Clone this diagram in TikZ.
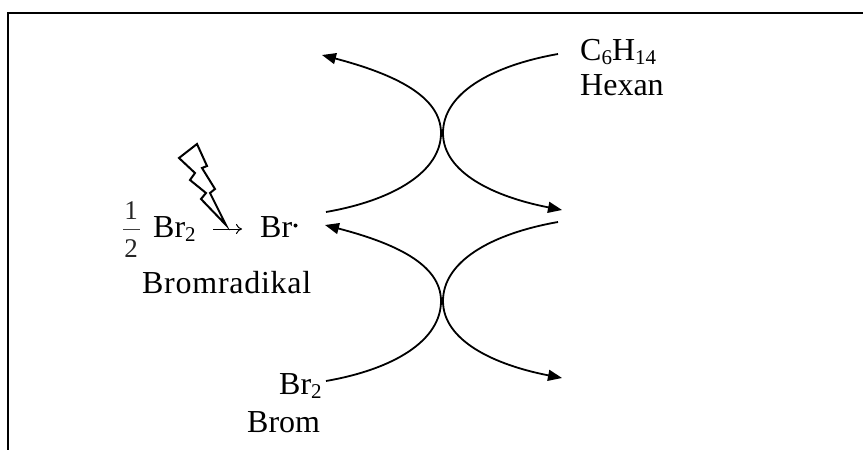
\documentclass[tikz,border=0pt]{standalone}
\usepackage{fontspec}
\setmainfont{Liberation Serif}
\usetikzlibrary{arrows.meta}
\tikzset{
 px/.style={x=1pt,y=-1pt},
 lbl/.style={inner sep=0pt,font=\fontsize{32}{36}\selectfont,text=black},
 frac/.style={inner sep=0pt,font=\fontsize{27}{30}\selectfont,text=black!85},
 curvea/.style={line width=1.8pt,-{Triangle[length=14pt,width=11pt]}}
}
\newcommand{\subs}[1]{\raisebox{-4.5pt}{\fontsize{21}{21}\selectfont #1}}
\begin{document}
\begin{tikzpicture}[px]
\useasboundingbox (0,0) rectangle (863,450);
\draw[line width=2.6pt,line cap=butt] (8,450) -- (8,13) -- (863,13);
% labels
\node[lbl,anchor=base west] (hex1) at (580,60) {C\subs{6}H\subs{14}};
\node[lbl,anchor=base west] (hex2) at (580,95) {Hexan};
\node[lbl,anchor=base west] (br2a) at (153,237) {Br\subs{2}};
\node[lbl,anchor=base west] (brr) at (260,237) {Br};
\node[lbl,anchor=base west] (brl) at (142,293) {\addfontfeature{LetterSpace=2.3}Bromradikal};
\node[lbl,anchor=base west] (br2b) at (279,394) {Br\subs{2}};
\node[lbl,anchor=base west] (brom) at (247,432) {Brom};
\node[frac,anchor=base] (n1) at (131,219) {1};
\node[frac,anchor=base] (n2) at (131,257) {2};
\coordinate (f1) at (123,229.5); \coordinate (f2) at (139.5,229.5);
\draw[line width=1pt,black!75] (f1) -- (f2);
\fill (295.5,225.5) circle (2pt);
% reaction arrow
\coordinate (ra) at (213,229); \coordinate (rb) at (242,229);
\draw[line width=1pt,-{To[length=6pt,width=10pt]}] (ra) -- (rb);
% lightning
\draw[line width=2pt,line join=miter,fill=white]
 (226,225) -- (210,193) -- (215,189) -- (202,168) -- (207,166) -- (197,144) -- (179,158) -- (195,173)
 -- (190,180) -- (206,193) -- (201,199) -- cycle;
% curves top
\coordinate (tr) at (558,54); \coordinate (bl) at (326,212);
\coordinate (tl) at (322,55); \coordinate (br) at (562,210);
\draw[curvea] (tr) .. controls (490,66) and (443,94) .. (443,133) .. controls (443,173) and (495,197) .. (br);
\draw[curvea] (bl) .. controls (395,200) and (441,171) .. (441,133) .. controls (441,96) and (394,74) .. (tl);
% curves bottom
\coordinate (tr2) at (558,222); \coordinate (bl2) at (326,381);
\coordinate (tl2) at (325,225); \coordinate (br2) at (562,378);
\draw[curvea] (tr2) .. controls (490,234) and (443,262) .. (443,301) .. controls (443,341) and (495,365) .. (br2);
\draw[curvea] (bl2) .. controls (395,369) and (441,340) .. (441,301) .. controls (441,264) and (394,243) .. (tl2);
\end{tikzpicture}
\end{document}
